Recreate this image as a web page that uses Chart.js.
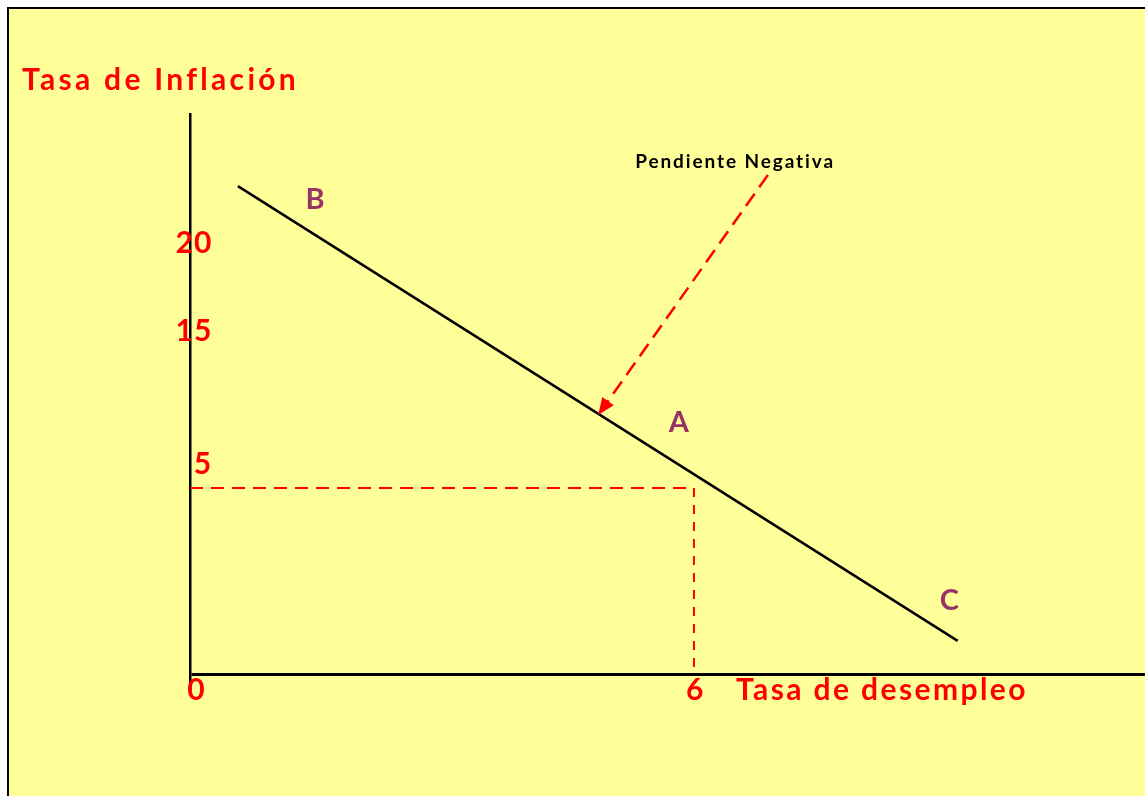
<!DOCTYPE html>
<html>
<head>
<meta charset="utf-8">
<script src="https://cdn.jsdelivr.net/npm/chart.js@4"></script>
<style>
    html, body { margin: 0; padding: 0; background: #fff; }
    #wrap { position: relative; width: 1145px; height: 796px; overflow: hidden; }
    #sheet {
        position: absolute; left: 7px; top: 7px; right: 0; bottom: 0;
        background: #ffff99;
        border-top: 2px solid #000; border-left: 2px solid #000;
    }
    #chart { position: absolute; left: 0; top: 0; }
</style>
</head>
<body>
<div id="wrap">
    <div id="sheet"></div>
    <canvas id="chart" width="1145" height="796"></canvas>
</div>
<script>
// --- Datos ---
// Curva de Phillips (B -> C), en unidades del dibujo
const curveX = [0.57, 9.14];
const curveY = [13.07, 0.91];

// Punto A (desempleo 6, inflación 5) con sus líneas de referencia
const refX = [0, 6, 6];
const refY = [5, 5, 0];

// Flecha "Pendiente Negativa"
const arrowX = [6.88, 4.86];
const arrowY = [13.37, 6.95];

// Etiquetas de los ejes (en el dibujo original no están a escala)
const xTickLabels = ['0', '6'];
const xTickAt = [0.04, 5.98];
const yTickLabels = ['20', '15', '5'];
const yTickAt = [11.55, 9.2, 5.62];

const pointNames = ['B', 'A', 'C'];
const pointNameX = [1.49, 5.82, 9.04];
const pointNameY = [12.7, 6.75, 1.98];

const X_MAX = 11.37;
const Y_MIN = -0.35;
const Y_MAX = 15;

const RED = '#ff0000';
const PURPLE = '#993366';
const FONT = 'Lato, "DejaVu Sans", sans-serif';

const toPoints = (xs, ys) => xs.map((x, i) => ({ x, y: ys[i] }));

// --- Plugin para textos y punta de flecha ---
const sketchLabels = {
    id: 'sketchLabels',
    afterDatasetsDraw(chart) {
        const { ctx, scales: { x, y } } = chart;
        ctx.save();
        ctx.textBaseline = 'middle';

        // punta de flecha
        const x0 = x.getPixelForValue(arrowX[0]), y0 = y.getPixelForValue(arrowY[0]);
        const x1 = x.getPixelForValue(arrowX[1]), y1 = y.getPixelForValue(arrowY[1]);
        const ang = Math.atan2(y1 - y0, x1 - x0);
        const len = 17, half = 7;
        ctx.fillStyle = RED;
        ctx.beginPath();
        ctx.moveTo(x1, y1);
        ctx.lineTo(x1 - len * Math.cos(ang) + half * Math.sin(ang), y1 - len * Math.sin(ang) - half * Math.cos(ang));
        ctx.lineTo(x1 - len * Math.cos(ang) - half * Math.sin(ang), y1 - len * Math.sin(ang) + half * Math.cos(ang));
        ctx.closePath();
        ctx.fill();

        // títulos de ejes
        ctx.fillStyle = RED;
        ctx.font = `bold 30px ${FONT}`;
        ctx.textAlign = 'left';
        ctx.letterSpacing = '3.3px';
        ctx.fillText('Tasa de Inflación', x.getPixelForValue(-2.0), y.getPixelForValue(15.9));
        ctx.letterSpacing = '2.4px';
        ctx.fillText('Tasa de desempleo', x.getPixelForValue(6.5), y.getPixelForValue(-0.4));

        // marcas
        ctx.textAlign = 'center';
        ctx.letterSpacing = '1px';
        xTickLabels.forEach((t, i) => {
            ctx.fillText(t, x.getPixelForValue(xTickAt[i]) + 3, y.getPixelForValue(-0.4));
        });
        yTickLabels.forEach((t, i) => {
            const px = t.length > 1 ? x.getPixelForValue(0) + 4 : x.getPixelForValue(0) + 13;
            ctx.fillText(t, px, y.getPixelForValue(yTickAt[i]));
        });

        // nombres de puntos
        ctx.fillStyle = PURPLE;
        ctx.font = `bold 29px ${FONT}`;
        ctx.letterSpacing = '0px';
        pointNames.forEach((t, i) => {
            ctx.fillText(t, x.getPixelForValue(pointNameX[i]), y.getPixelForValue(pointNameY[i]));
        });

        // anotación
        ctx.fillStyle = '#000';
        ctx.font = `bold 19px ${FONT}`;
        ctx.letterSpacing = '1.9px';
        ctx.fillText('Pendiente Negativa', x.getPixelForValue(6.49), y.getPixelForValue(13.72));

        ctx.restore();
    }
};

new Chart(document.getElementById('chart'), {
    type: 'scatter',
    data: {
        datasets: [
            {
                label: 'Curva',
                data: toPoints(curveX, curveY),
                showLine: true,
                borderColor: '#000',
                borderWidth: 2.5,
                pointRadius: 0
            },
            {
                label: 'Referencia A',
                data: toPoints(refX, refY),
                showLine: true,
                borderColor: RED,
                borderWidth: 2,
                borderDash: [13, 8],
                pointRadius: 0,
                segment: {
                    borderDash: c => c.p0DataIndex === 1 ? [9, 8] : [13, 8]
                }
            },
            {
                label: 'Flecha',
                data: toPoints(arrowX, arrowY),
                showLine: true,
                borderColor: RED,
                borderWidth: 2.5,
                borderDash: [15, 8],
                pointRadius: 0
            }
        ]
    },
    options: {
        responsive: false,
        animation: false,
        layout: { padding: { left: 190, top: 114, right: 0, bottom: 108 } },
        scales: {
            x: {
                type: 'linear', min: 0, max: X_MAX,
                display: false
            },
            y: {
                type: 'linear', min: Y_MIN, max: Y_MAX,
                afterFit: s => { s.width = 0; },
                afterBuildTicks: s => { s.ticks = [{ value: 0 }]; },
                ticks: { display: false },
                grid: { color: '#000', lineWidth: 3, drawTicks: false },
                border: { display: true, color: '#000', width: 2.5 }
            }
        },
        plugins: {
            legend: { display: false },
            tooltip: { enabled: false }
        }
    },
    plugins: [sketchLabels]
});
</script>
</body>
</html>
